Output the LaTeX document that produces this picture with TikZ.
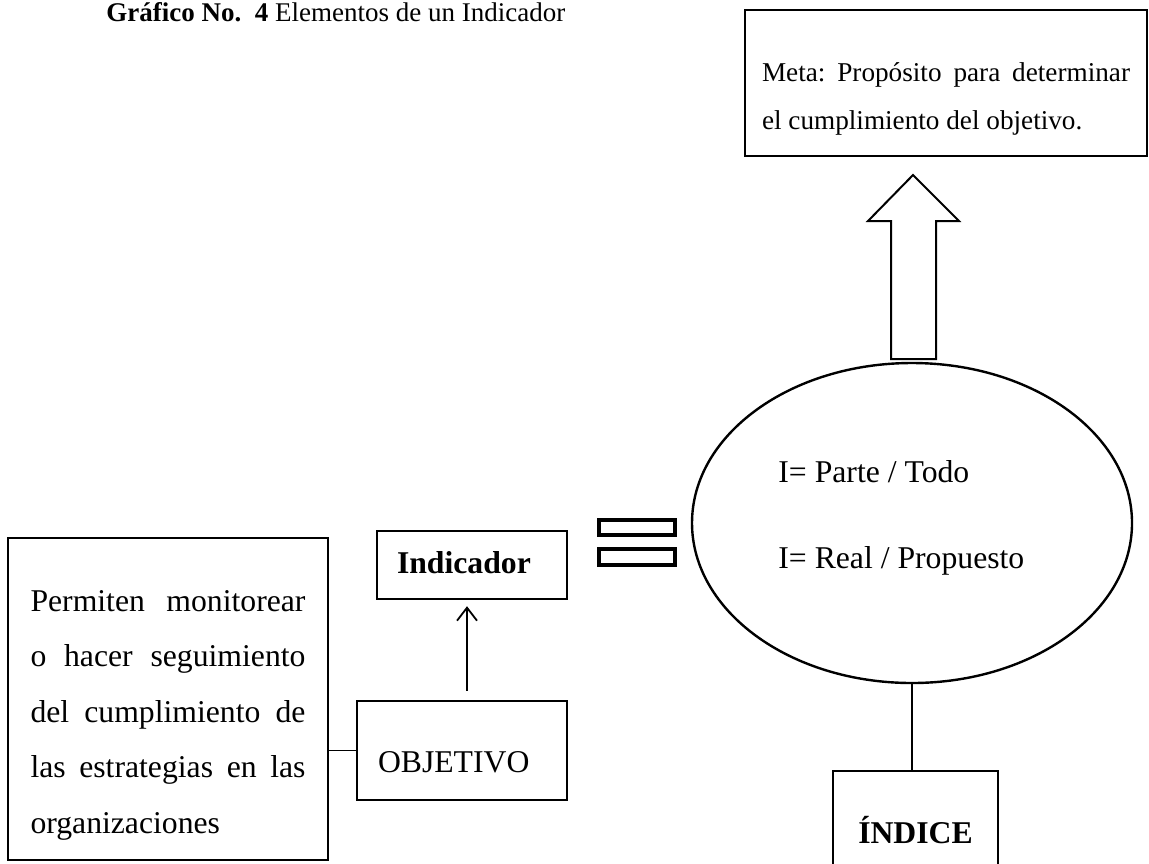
\documentclass[tikz,border=0pt]{standalone}
\usepackage{fontspec}
\setmainfont{Liberation Serif}
\usetikzlibrary{arrows.meta, positioning, shapes.geometric}
\frenchspacing

\begin{document}
\begin{tikzpicture}[x=0.5pt, y=-0.5pt,
        caja/.style={draw, rectangle, line width=1.2pt, inner ysep=0pt},
        letra/.style={font=\fontsize{15.85}{27.75}\selectfont},
        delgada/.style={line width=0.6pt},
        flechita/.style={line width=0.9pt, -{Straight Barb[length=6.5pt, width=10pt]}}]
        \useasboundingbox (0,0) rectangle (1149,863);

        \node[anchor=base west, inner sep=0pt, font=\fontsize{13.5}{16}\selectfont] (titulo) at (106,21)
            {\textbf{Gráfico No.\ \ 4} Elementos de un Indicador};

        \node[caja, minimum width=201pt, minimum height=73pt, inner xsep=8.5pt, text width=184pt,
            align=justify, text height=20pt, text depth=22pt, font=\fontsize{13.6}{24}\selectfont] (meta) at (946,83)
            {Meta: Propósito para determinar\linebreak el cumplimiento del objetivo.};

        \node[draw, ellipse, line width=1.2pt, inner sep=0pt, minimum width=220pt, minimum height=160pt] (elipse) at (912,523) {};
        \node[letra, anchor=base west, inner sep=0pt] (parte) at (778,482) {I= Parte / Todo};
        \node[letra, anchor=base west, inner sep=0pt] (real) at (778,568) {I= Real / Propuesto};

        \node[caja, letra, minimum width=82.5pt, minimum height=54.5pt, text height=17.5pt, text depth=0pt] (indice) at (915.5,825.5)
            {\textbf{ÍNDICE}};

        \node[caja, letra, minimum width=95pt, minimum height=34pt, inner xsep=10pt, text width=75pt, align=left,
            text height=10.9pt, text depth=2.9pt] (indicador) at (472,565) {\textbf{Indicador}};

        \node[caja, letra, minimum width=105pt, minimum height=49.5pt, inner xsep=10.5pt, text width=84pt, align=left,
            text height=21.5pt, text depth=0pt] (objetivo) at (462,750.5) {OBJETIVO};

        \node[caja, letra, minimum width=160pt, minimum height=161pt, inner xsep=11.25pt, text width=137.5pt, align=justify,
            text height=30pt, text depth=118pt] (descripcion) at (168,699)
            {Permiten monitorear\linebreak o hacer seguimiento\linebreak del cumplimiento de\linebreak las estrategias en las\linebreak organizaciones};

        % signo igual
        \foreach \arriba/\abajo in {520/535,549/565}
            \draw[line width=1.8pt] (599,\arriba) rectangle (675,\abajo);

        % flecha de bloque hacia la meta
        \draw[line width=1pt] (891,359) -- (891,221) -- (868,221) -- (913,175) -- (959,221) -- (936,221) -- (936,359) -- cycle;

        \draw[flechita, shorten <=4.5pt, shorten >=3pt] ([xshift=2.5pt]objetivo.north) -- ([xshift=2.5pt]objetivo.north |- indicador.south);
        \draw[delgada] (descripcion.east |- objetivo.west) -- (objetivo.west);
        \draw[delgada] (elipse.south) -- (elipse.south |- indice.north);
\end{tikzpicture}
\end{document}
